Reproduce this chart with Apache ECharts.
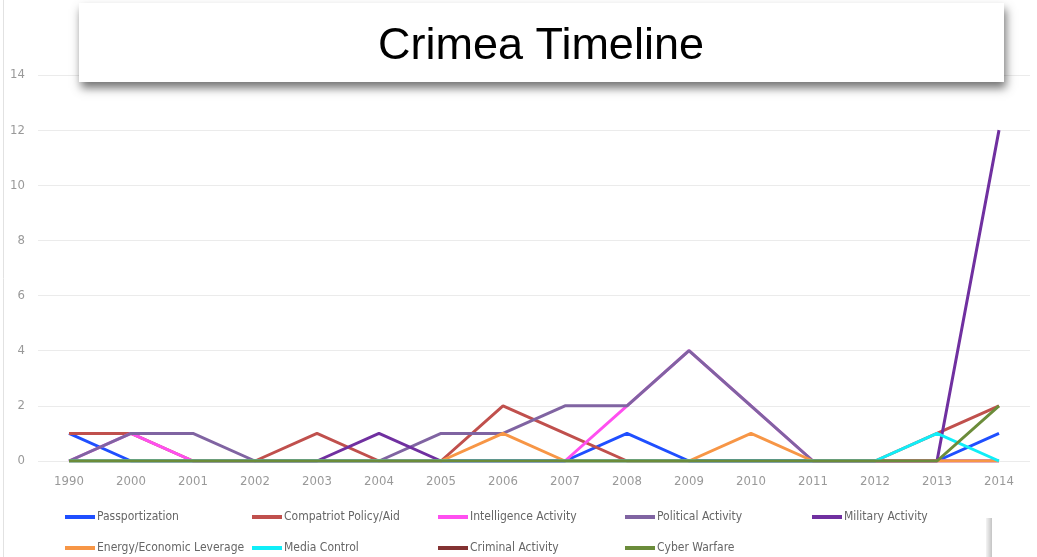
<!DOCTYPE html>
<html>
<head>
<meta charset="utf-8">
<script src="https://cdn.jsdelivr.net/npm/echarts@6/dist/echarts.min.js"></script>
<style>
  html, body { margin: 0; padding: 0; background: #fff; }
  #chart { width: 1037px; height: 557px; }
</style>
</head>
<body>
<div id="chart"></div>
<script>
// Years on the category axis
const years = ['1990','2000','2001','2002','2003','2004','2005','2006','2007','2008','2009','2010','2011','2012','2013','2014'];

// Event counts per category and year
const passportization  = [1,0,0,0,0,0,0,0,0,1,0,0,0,0,0,1];
const compatriotPolicy = [1,1,0,0,1,0,0,2,1,0,0,0,0,0,1,2];
const intelligence     = [0,1,0,0,0,0,0,0,0,2,4,2,0,0,0,0];
const political        = [0,1,1,0,0,0,1,1,2,2,4,2,0,0,0,0];
const military         = [0,0,0,0,0,1,0,0,0,0,0,0,0,0,0,12];
const energy           = [0,0,0,0,0,0,0,1,0,0,0,1,0,0,0,0];
const mediaControl     = [0,0,0,0,0,0,0,0,0,0,0,0,0,0,1,0];
const criminal         = [null,null,null,null,null,null,null,null,null,null,null,null,null,null,null,null];
const cyber            = [0,0,0,0,0,0,0,0,0,0,0,0,0,0,0,2];

const yTicks = [0, 14, 2]; // min, max, step

const seriesDefs = [
  ['Passportization', passportization, '#1f4fff'],
  ['Compatriot Policy/Aid', compatriotPolicy, '#c0504d'],
  ['Intelligence Activity', intelligence, '#ff4ff0'],
  ['Political Activity', political, '#8064a2'],
  ['Military Activity', military, '#7030a0'],
  ['Energy/Economic Leverage', energy, '#f79646'],
  ['Media Control', mediaControl, '#10eef8'],
  ['Criminal Activity', criminal, '#833232'],
  ['Cyber Warfare', cyber, '#6b8c3a']
];

// legend slots: [left, top]
const legendSlots = [
  [65, 511], [252, 511], [438, 511], [625, 511], [812, 511],
  [65, 542], [252, 542], [438, 542], [625, 542]
];

const narrow = '"DejaVu Sans Condensed", "Liberation Sans Narrow", "Liberation Sans", Arial, sans-serif';

const chart = echarts.init(document.getElementById('chart'), null, { renderer: 'canvas' });

chart.setOption({
  animation: false,
  backgroundColor: '#ffffff',
  grid: { left: 38, right: 7, top: 75, bottom: 96, containLabel: false },
  xAxis: {
    type: 'category',
    data: years,
    boundaryGap: true,
    axisLine: { show: false },
    axisTick: { show: false },
    axisLabel: { color: '#999999', fontFamily: narrow, fontSize: 13, margin: 14 }
  },
  yAxis: {
    type: 'value',
    min: yTicks[0],
    max: yTicks[1],
    interval: yTicks[2],
    axisLine: { show: false },
    axisTick: { show: false },
    axisLabel: { color: '#999999', fontFamily: narrow, fontSize: 13, margin: 13 },
    splitLine: { lineStyle: { color: '#ebebeb', width: 1 } }
  },
  legend: seriesDefs.map((d, i) => ({
    data: [{ name: d[0], icon: 'rect' }],
    left: legendSlots[i][0],
    top: legendSlots[i][1],
    itemWidth: 30,
    itemHeight: 4,
    selectedMode: false,
    padding: 0,
    textStyle: { color: '#666666', fontFamily: narrow, fontSize: 12, padding: [0, 0, 0, -3] }
  })),
  series: seriesDefs.map(d => ({
    name: d[0],
    type: 'line',
    data: d[1],
    color: d[2],
    showSymbol: false,
    symbol: 'none',
    lineStyle: { width: 3, color: d[2] },
    itemStyle: { color: d[2] }
  })),
  graphic: [
    // thin frame line on the left edge
    { type: 'line', shape: { x1: 3.5, y1: 0, x2: 3.5, y2: 557 }, style: { stroke: '#e2e2e2', lineWidth: 1 }, z: 50 },
    // shaded edge of the panel at the lower right
    {
      type: 'rect', shape: { x: 986, y: 518, width: 6, height: 39 },
      style: {
        fill: new echarts.graphic.LinearGradient(0, 0, 1, 0, [
          { offset: 0, color: '#f4f4f4' }, { offset: 1, color: '#c4c4c4' }
        ])
      }, z: 50
    },
    // title box with drop shadow
    {
      type: 'rect', shape: { x: 79, y: 3, width: 925, height: 79 },
      style: {
        fill: '#ffffff',
        shadowBlur: 9, shadowOffsetX: 2, shadowOffsetY: 6, shadowColor: 'rgba(0,0,0,0.55)'
      }, z: 100
    },
    {
      type: 'text', x: 541, y: 47,
      style: {
        text: 'Crimea Timeline',
        fill: '#000000',
        font: '45px "Liberation Sans", Arial, sans-serif',
        align: 'center',
        verticalAlign: 'middle'
      }, z: 101
    }
  ]
});
</script>
</body>
</html>
